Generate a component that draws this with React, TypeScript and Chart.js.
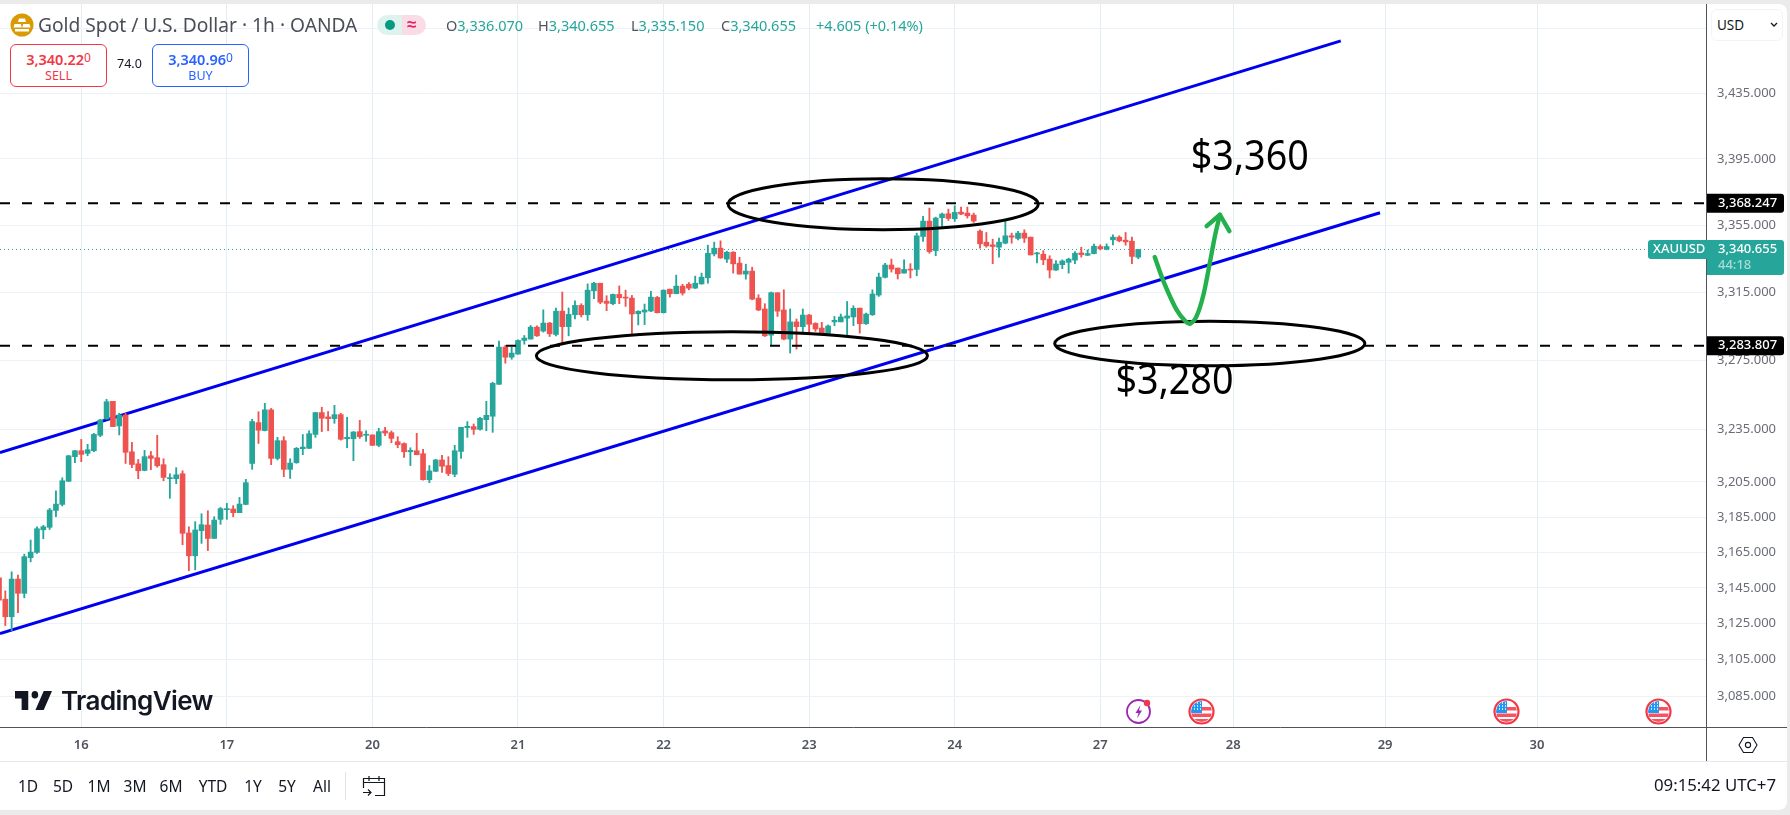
import React, { useEffect, useRef } from "react";
import { Chart, registerables } from "chart.js";

Chart.register(...registerables);

const FONT = '"Noto Sans", sans-serif';

// ---- hourly candles ----
const opens = [
  3149.7,3137.7,3127.9,3149,3141,3161,3164,3176.8,3178.2,3187.8,
  3191.2,3204.4,3218.5,3221.9,3220.4,3221.9,3230.8,3240.2,3250.4,3236.2,
  3242.5,3221.3,3214.4,3210.6,3219,3217.9,3213.9,3205.9,3205.9,3208.7,
  3175,3162.1,3176.3,3179.5,3171.9,3182.7,3188.2,3188.6,3186.5,3191.2,
  3214.6,3238.1,3233.5,3245.5,3217.5,3227.7,3211.2,3215,3223.1,3223.3,
  3231.3,3243.9,3241.4,3240.4,3242.7,3228.8,3228.8,3232.9,3230.8,3231,
  3225,3233.3,3232.3,3227.1,3226,3221.3,3221.9,3220.2,3205.3,3210.1,
  3216.6,3213.4,3208.4,3221.5,3235.2,3235.8,3234.2,3239.8,3241.8,3260.3,
  3282,3276.1,3277.9,3285.9,3286.7,3293.7,3291.4,3296.1,3289.4,3303.1,
  3294,3301,3306.5,3301,3315.1,3319.6,3309,3307.5,3313,3311.4,
  3310.8,3301.6,3302.6,3303.2,3311.2,3302.2,3316.1,3313.4,3317.9,3319,
  3316.7,3319.2,3322.8,3337,3340.4,3333.9,3338,3331.5,3325,3326.8,
  3310.8,3304.4,3289,3314,3303.8,3286.7,3296.8,3294,3300.8,3295.9,
  3293.2,3290,3296.8,3296.8,3299,3299.7,3304.9,3295.7,3301,3312.6,
  3323.1,3330.4,3328.6,3325.6,3328,3327.8,3347.4,3356.6,3339,3358.6,
  3361,3358,3362,3361.4,3360.2,3350.6,3344,3342.4,3341,3343.4,
  3347.8,3346.2,3349.4,3347,3337,3336.8,3333.9,3327.4,3330.6,3332,
  3333.3,3337.6,3336.2,3337.2,3341.4,3339.8,3345.4,3347,3345.2,3344.6,3335.07,
];
const highs = [
  3152,3142.4,3153.1,3151.2,3163,3171,3178.5,3179.3,3189,3199,
  3206.4,3219.2,3222.1,3228.4,3225.6,3231.9,3240,3251.6,3250.4,3243.5,
  3243.5,3226.7,3216.9,3222.1,3221.5,3230.8,3217.3,3208.7,3212.2,3210.4,
  3178.5,3181.4,3185.9,3187.6,3184.2,3189.5,3191.8,3190.5,3195.2,3205.5,
  3240,3244.4,3249.3,3246.3,3229.6,3230,3217.3,3223.8,3231.2,3233.4,
  3244.1,3247,3244.5,3248.1,3243.5,3241.2,3232.9,3239.4,3233.4,3231,
  3234.8,3235.4,3233.3,3230,3226.5,3223.6,3231.9,3222.7,3213.4,3217,
  3219.2,3218.5,3225,3235.4,3238.7,3237.3,3241.2,3250.4,3261.5,3285.5,
  3283.1,3282,3286.3,3288.8,3294.7,3294.5,3303.9,3296.5,3304.9,3314.4,
  3305,3309.2,3307.5,3319.2,3320.2,3319.6,3312.2,3313.2,3318,3315.5,
  3312.4,3303.4,3307.3,3314.8,3311.8,3315.7,3316.1,3324.4,3319,3320,
  3323.8,3325.6,3342.2,3344,3344.8,3338.6,3338.4,3335,3330.9,3329.1,
  3312.8,3307.5,3314.4,3314,3315.7,3304.4,3298.5,3304.4,3301.2,3296.3,
  3296.5,3295,3300,3301.4,3308.8,3306.3,3304.9,3302,3315.7,3325.6,
  3331.4,3333.9,3328.6,3333.5,3331.2,3349.4,3359.4,3364.4,3359,3361.4,
  3363.8,3365.8,3365,3365,3361.4,3351.4,3349.8,3345.8,3346.4,3357.4,
  3349.4,3350.4,3351.4,3347,3338,3339,3335.9,3333,3333.5,3334.5,
  3338.4,3341,3339.4,3342.8,3342.4,3343,3348.4,3347.8,3349.8,3347,3339.655,
];
const lows = [
  3130,3123,3120.2,3130.2,3138.5,3158.7,3163.4,3171.7,3177,3184.2,
  3190.3,3204.2,3215,3215.6,3219,3221.3,3230,3240,3235.8,3231,
  3214.6,3212.2,3205.9,3210.4,3211,3212.4,3204.7,3194.7,3203,3168.3,
  3153.7,3154.2,3169.1,3165,3171.9,3179.9,3182.7,3184.2,3186.5,3191,
  3211.2,3226.1,3233.3,3213.9,3216.6,3207,3206,3214.7,3219.6,3223.1,
  3229.6,3232.9,3233.4,3237.7,3228,3223.6,3216.2,3229,3227.3,3224.8,
  3224.2,3230.6,3226.5,3223.6,3218.1,3213.4,3219.6,3205.1,3203.6,3209.9,
  3209.5,3207.6,3207,3217.5,3229.6,3231.3,3233.8,3233.4,3232.5,3260.3,
  3272.6,3274.9,3277.9,3283.7,3286.7,3288.2,3290.8,3288.2,3288.6,3284.4,
  3288.6,3298.5,3299.7,3297.7,3310.4,3307.5,3303.4,3306.9,3307.5,3305.9,
  3289.8,3295,3295.2,3302.8,3302,3302,3311.4,3313.4,3312.6,3315.7,
  3316.5,3319,3319.6,3335.8,3334.4,3331.9,3325.6,3325,3322,3309.8,
  3303.4,3288.2,3282.8,3300,3286.3,3278.5,3280.8,3290.2,3290.2,3291.2,
  3289.2,3289.8,3294.6,3296.8,3288.6,3294.6,3290.2,3295.3,3300.6,3311.8,
  3322.7,3326.2,3322.1,3325.6,3322.7,3324,3344.4,3337.4,3335.9,3353.4,
  3357,3356.4,3360.5,3358.4,3355.8,3340.4,3341,3331.2,3335.1,3343,
  3343.4,3345.4,3343.8,3336.4,3331.6,3330.6,3322.7,3327.2,3328.2,3325.6,
  3331.2,3335.1,3336,3337,3339.4,3339.4,3342.4,3344.2,3342.2,3331.2,3334.15,
];
const closes = [
  3137.2,3127.9,3149,3141,3161.6,3164.2,3177.4,3178.5,3188,3191.4,
  3204.7,3219,3221.9,3219.8,3222.5,3231.3,3239.6,3250.2,3235.8,3242.5,
  3221,3214,3210.4,3218.5,3217.5,3213.3,3206.6,3206.4,3208.1,3174.8,
  3162.1,3176.7,3179.7,3171.9,3182.3,3188.8,3188.8,3186.5,3191.4,3203.6,
  3238.7,3233.7,3245.5,3217.5,3227.7,3211.2,3214.8,3223.3,3224,3231.7,
  3243.9,3240.6,3240.4,3242.7,3228.5,3229.6,3232.7,3230,3231.4,3225,
  3232.9,3232.1,3229,3225.4,3221.3,3222.1,3219.6,3205.3,3210.3,3216.6,
  3213,3208.8,3221.9,3235.4,3236,3234.2,3240.6,3242.3,3260.9,3282,
  3276.1,3278.5,3285.9,3287.3,3293.7,3288.6,3296.1,3289.8,3303.1,3294,
  3301.2,3306.5,3301,3315.5,3319.6,3308.4,3307.7,3313,3311,3310.8,
  3301.4,3303,3303.8,3311.4,3302.2,3315.5,3313.4,3317.9,3313.8,3316.7,
  3319.6,3323.2,3337.4,3340.4,3334.6,3338,3331.1,3325,3326.8,3310.2,
  3303.8,3288.6,3314,3303.1,3286.7,3296.8,3294,3300.8,3295.4,3292.6,
  3289.8,3294.4,3297.7,3299.7,3300.3,3304.8,3295.7,3301.4,3313.2,3323.2,
  3330.4,3328,3325.2,3327.8,3327.4,3347.8,3356.6,3338.4,3358.4,3360.8,
  3358.2,3361.8,3360.8,3359.8,3356.6,3343,3341.8,3341.4,3344,3347.8,
  3347,3349.4,3346.4,3336.4,3337.4,3333.5,3327.4,3331,3332.8,3333.9,
  3337.4,3336.6,3337.2,3341.6,3340,3341.4,3347,3344.8,3344.2,3335.5,3339.655,
];
// the values above were read about one dollar low against the printed axis
const readingOffset = 1;

// ---- axes ----
const dayBars = [13, 36, 59, 82, 105, 128, 151, 174, 195, 219, 243];
const dayLabels = ["16", "17", "20", "21", "22", "23", "24", "27", "28", "29", "30"];
const priceTicks = [3475, 3435, 3395, 3355, 3315, 3275, 3235, 3205, 3185, 3165, 3145, 3125, 3105, 3085];
const hiddenPriceTick = 3475;
const xRange = [0.16, 269.7];
const yRange = [3068.0, 3490.1];

// ---- price levels and drawings ----
const lastPrice = 3340.655;
const resistance = 3368.247;
const support = 3283.807;
const upperChannelBars = [0.16, 212];
const upperChannelPrices = [3220.8, 3466.2];
const lowerChannelBars = [0.16, 218.2];
const lowerChannelPrices = [3118.6, 3361.6];
const arrowBars = [182.6, 184, 186.06, 187.5, 188.2, 189.2, 190.3, 191.3, 192.1, 192.9];
const arrowPrices = [3335.1, 3320.6, 3303.9, 3297, 3295.7, 3300, 3312.8, 3331.5, 3347.4, 3360.4];
const arrowHeadBars = [190.8, 192.9, 194.4];
const arrowHeadPrices = [3353.6, 3360.4, 3350.6];
const ellipseCentreBars = [139.7, 115.8, 191.3];
const ellipseBarRadii = [24.5, 30.9, 24.5];
const ellipseTopPrices = [3382, 3291, 3297.2];
const ellipseBottomPrices = [3351.4, 3262.9, 3271.1];
const noteTexts = ["$3,360", "$3,280"];
const noteBars = [188.3, 176.4];
const notePrices = [3387.3, 3254.7];

const UP = "#26a69a";
const DOWN = "#ef5350";
const fmt = (v: number) => v.toLocaleString("en-US", { minimumFractionDigits: 3, maximumFractionDigits: 3 });
const pts = (xs: number[], ys: number[]) => xs.map((x, i) => ({ x, y: ys[i] }));
const adj = (ys: number[]) => ys.map((v) => v + readingOffset);
const clearPadding = (s: any) => {
  s.paddingTop = 0;
  s.paddingBottom = 0;
  s.paddingLeft = 0;
  s.paddingRight = 0;
};

const drawingsPlugin = {
  id: "drawings",
  afterDatasetDraw(chart: any, args: any) {
    if (args.index !== 1) return;
    const { ctx, scales } = chart;
    const { x, y } = scales;
    ctx.save();
    ctx.strokeStyle = "#000";
    ctx.lineWidth = 3;
    ellipseCentreBars.forEach((c, i) => {
      const cx = x.getPixelForValue(c);
      const rx = x.getPixelForValue(c + ellipseBarRadii[i]) - cx;
      const top = y.getPixelForValue(ellipseTopPrices[i] + readingOffset);
      const bottom = y.getPixelForValue(ellipseBottomPrices[i] + readingOffset);
      ctx.beginPath();
      ctx.ellipse(cx, (top + bottom) / 2, rx, (bottom - top) / 2, 0, 0, Math.PI * 2);
      ctx.stroke();
    });
    ctx.restore();
  },
  afterDraw(chart: any) {
    const { ctx, scales } = chart;
    const { x, y } = scales;
    const left = chart.chartArea.right + 1;
    ctx.save();
    ctx.fillStyle = "#000";
    ctx.font = `41px ${FONT}`;
    ctx.textAlign = "left";
    ctx.textBaseline = "alphabetic";
    noteTexts.forEach((t, i) => {
      ctx.save();
      ctx.translate(x.getPixelForValue(noteBars[i]), y.getPixelForValue(notePrices[i] + readingOffset));
      ctx.scale(0.92, 1);
      ctx.fillText(t, 0, 0);
      ctx.restore();
    });
    ctx.textBaseline = "middle";
    [resistance, support].forEach((p) => {
      const py = y.getPixelForValue(p);
      ctx.fillStyle = "#000";
      ctx.beginPath();
      ctx.roundRect(left, py - 9.5, 77, 19, [0, 3, 3, 0]);
      ctx.fill();
      ctx.fillStyle = "#fff";
      ctx.font = `500 13px ${FONT}`;
      ctx.fillText(fmt(p), left + 11, py);
    });
    const py = y.getPixelForValue(lastPrice);
    ctx.fillStyle = UP;
    ctx.beginPath();
    ctx.roundRect(left, py - 9.5, 77, 35, [0, 3, 3, 0]);
    ctx.fill();
    ctx.beginPath();
    ctx.roundRect(left - 59, py - 9.5, 59, 19, [3, 0, 0, 3]);
    ctx.fill();
    ctx.fillStyle = "#fff";
    ctx.font = `500 13px ${FONT}`;
    ctx.fillText(fmt(lastPrice), left + 11, py);
    ctx.fillText("XAUUSD", left - 54, py);
    ctx.fillStyle = "#a8dcd6";
    ctx.fillText("44:18", left + 11, py + 16);
    ctx.restore();
  },
};

function FlagIcon({ x }: { x: number }) {
  return (
    <svg width="27" height="27" viewBox="0 0 27 27" style={{ position: "absolute", left: x - 13.5, top: 697.5 }}>
      <defs>
        <clipPath id={`c${x}`}><circle cx="13.5" cy="13.5" r="10.5" /></clipPath>
      </defs>
      <g clipPath={`url(#c${x})`}>
        <rect width="27" height="27" fill="#fff" />
        <rect y="9" x="13" width="14" height="3.5" fill="#f7525f" />
        <rect y="15.5" width="27" height="3.5" fill="#f7525f" />
        <rect y="21" width="27" height="6" fill="#f7525f" />
        <rect x="0" y="0" width="14" height="15" fill="#2196f3" />
        <path d="M6 5h1M9 5h1M12 5h1M6 8h1M9 8h1M12 8h1M6 11h1M9 11h1M12 11h1" stroke="#fff" strokeWidth="1.4" />
      </g>
      <circle cx="13.5" cy="13.5" r="12" fill="none" stroke="#f23645" strokeWidth="2.2" />
    </svg>
  );
}

const rangeButtons: [string, number][] = [
  ["1D", 28], ["5D", 63], ["1M", 99], ["3M", 135], ["6M", 171],
  ["YTD", 213], ["1Y", 253], ["5Y", 287], ["All", 322],
];

const abs = (s: React.CSSProperties): React.CSSProperties => ({ position: "absolute", whiteSpace: "nowrap", ...s });

function Quote({ k, v, x }: { k: string; v: string; x: number }) {
  return (
    <span style={abs({ left: x, top: 15, fontSize: 14.5, lineHeight: "20px" })}>
      <span style={{ color: "#50535e" }}>{k}</span>
      <span style={{ color: UP }}>{v}</span>
    </span>
  );
}

function TradeButton({ x, color, price, tail, label }: { x: number; color: string; price: string; tail: string; label: string }) {
  return (
    <div style={abs({ left: x, top: 44, width: 97, height: 43, boxSizing: "border-box", border: `1px solid ${color}`, borderRadius: 6, background: "#fff", color, textAlign: "center" })}>
      <div style={{ fontSize: 14.5, fontWeight: 600, lineHeight: "18px", marginTop: 4 }}>
        {price}<span style={{ fontSize: 12, fontWeight: 400, verticalAlign: 3 }}>{tail}</span>
      </div>
      <div style={{ fontSize: 12.5, lineHeight: "16px" }}>{label}</div>
    </div>
  );
}

export default function App() {
  const ref = useRef<HTMLCanvasElement>(null);
  useEffect(() => {
    const n = opens.length;
    const idx = Array.from({ length: n }, (_, i) => i);
    const colors = idx.map((i) => (closes[i] >= opens[i] ? UP : DOWN));
    const line = (data: any[], color: string, width: number, order: number, extra: any = {}) => ({
      type: "line", data, borderColor: color, borderWidth: width, pointRadius: 0, fill: false, order, ...extra,
    });
    const chart = new Chart(ref.current as HTMLCanvasElement, {
      type: "bar",
      data: {
        datasets: [
          {
            label: "wicks",
            data: idx.map((i) => ({ x: i, y: [lows[i] + readingOffset, highs[i] + readingOffset] })),
            backgroundColor: colors, barThickness: 1.2, grouped: false, borderWidth: 0, order: 11,
          },
          {
            label: "bodies",
            data: idx.map((i) => ({ x: i, y: [opens[i] + readingOffset, closes[i] + readingOffset] })),
            backgroundColor: colors, barThickness: 5, grouped: false, borderWidth: 0, minBarLength: 1, order: 10,
          },
          line(pts(upperChannelBars, adj(upperChannelPrices)), "#0000f0", 3, 12),
          line(pts(lowerChannelBars, adj(lowerChannelPrices)), "#0000f0", 3, 12),
          line(pts(xRange, [lastPrice, lastPrice]), UP, 1, 13, { borderDash: [1, 3] }),
          line(pts(xRange, [resistance, resistance]), "#000", 2, 3, { borderDash: [10, 12] }),
          line(pts(xRange, [support, support]), "#000", 2, 3, { borderDash: [10, 12] }),
          line(pts(arrowBars, adj(arrowPrices)), "#22b14c", 4.4, 1, { tension: 0.3, borderCapStyle: "round" }),
          line(pts(arrowHeadBars, adj(arrowHeadPrices)), "#22b14c", 4.4, 1, { borderCapStyle: "round", borderJoinStyle: "round" }),
        ],
      } as any,
      options: {
        animation: false,
        responsive: false,
        devicePixelRatio: 1,
        layout: { autoPadding: false, padding: { top: 4, right: 3, bottom: 54, left: 0 } },
        plugins: { legend: { display: false }, tooltip: { enabled: false } },
        scales: {
          x: {
            type: "linear",
            bounds: "data",
            offset: false,
            min: xRange[0],
            max: xRange[1],
            afterBuildTicks: (s: any) => { s.ticks = dayBars.map((v) => ({ value: v })); },
            afterFit: (s: any) => { s.height = 34; clearPadding(s); },
            grid: { color: "#e3edf4", drawTicks: false, offset: false },
            border: { color: "#50535e", width: 1 },
            ticks: {
              autoSkip: false, maxRotation: 0, padding: 10,
              color: "#50535e",
              font: { family: FONT, size: 13, weight: 600 },
              callback: (v: any) => dayLabels[dayBars.indexOf(v)] ?? "",
            },
          },
          y: {
            type: "logarithmic",
            bounds: "data",
            position: "right",
            min: yRange[0],
            max: yRange[1],
            afterBuildTicks: (s: any) => { s.ticks = priceTicks.map((v) => ({ value: v })); },
            afterFit: (s: any) => { s.width = 81; clearPadding(s); },
            grid: { color: "#edf2f7", drawTicks: false },
            border: { color: "#50535e", width: 1 },
            ticks: {
              autoSkip: false, padding: 11,
              color: "#6a6d78",
              font: { family: FONT, size: 13 },
              callback: (v: any) => (v === hiddenPriceTick ? "" : fmt(v)),
            },
          },
        },
      } as any,
      plugins: [drawingsPlugin as any],
    });
    return () => chart.destroy();
  }, []);

  return (
    <div style={{ position: "fixed", left: 0, top: 0, width: 1790, height: 815, background: "#ebebeb", overflow: "hidden", fontFamily: FONT }}>
      <div style={{ position: "absolute", left: 0, top: 4, width: 1787, height: 806, background: "#fff", borderRadius: "0 8px 8px 0" }} />
      <canvas ref={ref} width={1790} height={815} style={{ position: "absolute", left: 0, top: 0, display: "block" }} />

      {/* axis continuation lines */}
      <div style={{ position: "absolute", left: 1706, top: 727, width: 81, height: 1, background: "#50535e" }} />
      <div style={{ position: "absolute", left: 1706, top: 727, width: 1, height: 34, background: "#50535e" }} />
      <div style={{ position: "absolute", left: 0, top: 761, width: 1787, height: 1, background: "#e6e8ee" }} />

      {/* header */}
      <svg width="24" height="24" viewBox="0 0 24 24" style={{ position: "absolute", left: 10, top: 13 }}>
        <circle cx="12" cy="12" r="11.5" fill="#d99a06" />
        <path d="M9 5.5h6l1 3.5H8zM4.5 11h6.3l1 3.5H3.5zM13.2 11h6.3l1 3.5h-8.3zM5 16h14v2.5H5z" fill="#fff" />
      </svg>
      <div style={abs({ left: 38, top: 13, fontSize: 19.2, lineHeight: "24px", color: "#4b4d58" })}>Gold Spot / U.S. Dollar · 1h · OANDA</div>
      <div style={{ position: "absolute", left: 377, top: 15, width: 25, height: 20, background: "#dff3ee", borderRadius: "10px 0 0 10px" }} />
      <div style={{ position: "absolute", left: 402, top: 15, width: 24, height: 20, background: "#fadce6", borderRadius: "0 10px 10px 0" }} />
      <div style={{ position: "absolute", left: 385, top: 20, width: 10, height: 10, borderRadius: 5, background: "#089981" }} />
      <div style={abs({ left: 407, top: 13, fontSize: 17, lineHeight: "22px", fontWeight: 700, color: "#e91e63" })}>≈</div>
      <Quote k="O" v="3,336.070" x={446} />
      <Quote k="H" v="3,340.655" x={538} />
      <Quote k="L" v="3,335.150" x={631} />
      <Quote k="C" v="3,340.655" x={721} />
      <span style={abs({ left: 816, top: 15, fontSize: 14.5, lineHeight: "20px", color: UP })}>+4.605 (+0.14%)</span>
      <TradeButton x={10} color="#f23645" price="3,340.22" tail="0" label="SELL" />
      <div style={abs({ left: 117, top: 55, fontSize: 12.5, lineHeight: "18px", color: "#131722" })}>74.0</div>
      <TradeButton x={152} color="#2962ff" price="3,340.96" tail="0" label="BUY" />

      {/* currency button */}
      <div style={{ position: "absolute", left: 1711, top: 9, width: 72, height: 32, boxSizing: "border-box", border: "1px solid #f0f3fa", borderRadius: 6, background: "#fff" }} />
      <div style={abs({ left: 1717, top: 15, fontSize: 13.5, lineHeight: "20px", color: "#131722" })}>USD</div>
      <svg width="10" height="8" viewBox="0 0 10 8" style={{ position: "absolute", left: 1769, top: 21 }}>
        <path d="M2 2l3 3 3-3" fill="none" stroke="#131722" strokeWidth="1.3" />
      </svg>

      {/* TradingView logo */}
      <svg width="37" height="19" viewBox="2 6 33.5 15" preserveAspectRatio="none" style={{ position: "absolute", left: 15, top: 691 }}>
        <path d="M14 6H2v6h6v9h6V6zm14 15h-7.5L28 6h7.5L28 21z" fill="#131722" />
        <circle cx="20" cy="9" r="3" fill="#131722" />
      </svg>
      <div style={abs({ left: 61, top: 685, fontFamily: "Inter, sans-serif", fontSize: 26, lineHeight: "32px", fontWeight: 600, letterSpacing: -0.6, color: "#131722" })}>TradingView</div>

      {/* event markers */}
      <svg width="27" height="27" viewBox="0 0 27 27" style={{ position: "absolute", left: 1124.5, top: 697.5 }}>
        <circle cx="13.5" cy="13.5" r="11.5" fill="#fff" stroke="#9c27b0" strokeWidth="1.8" />
        <path d="M15.5 7l-5 8h3l-1.5 5.5 5-8h-3z" fill="#9c27b0" />
        <circle cx="22" cy="5" r="3.2" fill="#f23645" />
      </svg>
      <FlagIcon x={1201} />
      <FlagIcon x={1506} />
      <FlagIcon x={1658} />

      {/* settings hexagon */}
      <svg width="20" height="20" viewBox="0 0 20 20" style={{ position: "absolute", left: 1738, top: 735 }}>
        <path d="M5.5 2.5h9L19 10l-4.5 7.5h-9L1 10z" fill="none" stroke="#131722" strokeWidth="1.1" />
        <circle cx="10" cy="10" r="2.6" fill="none" stroke="#131722" strokeWidth="1.1" />
      </svg>

      {/* bottom toolbar */}
      {rangeButtons.map(([t, cx]) => (
        <div key={t} style={abs({ left: cx - 25, width: 50, top: 776, textAlign: "center", fontSize: 15.5, lineHeight: "20px", color: "#131722" })}>{t}</div>
      ))}
      <div style={{ position: "absolute", left: 345, top: 772, width: 1, height: 28, background: "#e0e3eb" }} />
      <svg width="24" height="24" viewBox="0 0 24 24" style={{ position: "absolute", left: 362, top: 774 }}>
        <path d="M1.5 14V4.5h21v17H13M1.5 8.5h21M7 2v5M17 2v5M1 18.5h8M6 15.5l3 3-3 3" fill="none" stroke="#131722" strokeWidth="1.2" />
      </svg>
      <div style={abs({ right: 14, top: 775, fontSize: 16.8, lineHeight: "20px", color: "#131722" })}>09:15:42 UTC+7</div>
    </div>
  );
}
